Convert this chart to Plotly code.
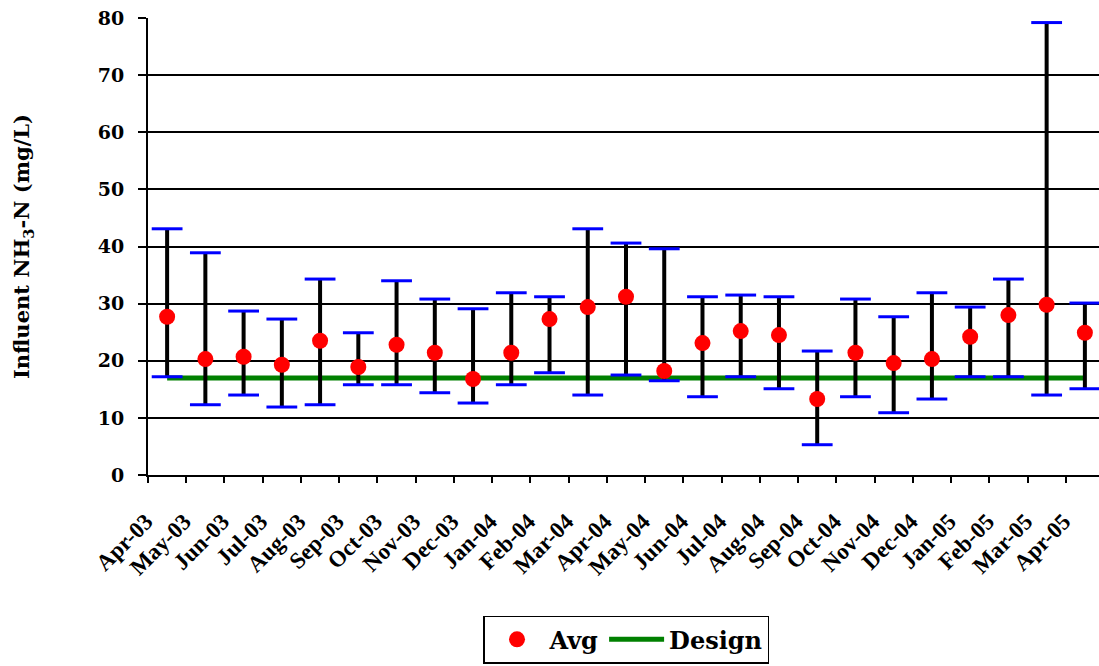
import plotly.graph_objects as go

months = ["Apr-03", "May-03", "Jun-03", "Jul-03", "Aug-03", "Sep-03", "Oct-03", "Nov-03",
          "Dec-03", "Jan-04", "Feb-04", "Mar-04", "Apr-04", "May-04", "Jun-04", "Jul-04",
          "Aug-04", "Sep-04", "Oct-04", "Nov-04", "Dec-04", "Jan-05", "Feb-05", "Mar-05", "Apr-05"]
avg_vals = [27.7, 20.3, 20.7, 19.3, 23.5, 18.9, 22.8, 21.4,
            16.8, 21.4, 27.3, 29.4, 31.2, 18.2, 23.1, 25.2,
            24.5, 13.3, 21.4, 19.6, 20.3, 24.2, 28.0, 29.8, 24.9]
max_vals = [43.1, 38.9, 28.7, 27.3, 34.3, 24.9, 34.0, 30.8,
            29.1, 31.9, 31.2, 43.1, 40.6, 39.6, 31.2, 31.5,
            31.2, 21.7, 30.8, 27.7, 31.9, 29.4, 34.3, 79.2, 30.1]
min_vals = [17.2, 12.3, 14.0, 11.9, 12.3, 15.8, 15.8, 14.4,
            12.6, 15.8, 17.9, 14.0, 17.5, 16.5, 13.7, 17.2,
            15.1, 5.3, 13.7, 10.9, 13.3, 17.2, 17.2, 14.0, 15.1]
design_val = 17.0
y_ticks = [0, 10, 20, 30, 40, 50, 60, 70, 80]

FONT = "DejaVu Serif"
XFONT = "Liberation Serif"

err_plus = [mx - a for mx, a in zip(max_vals, avg_vals)]
err_minus = [a - mn for mn, a in zip(min_vals, avg_vals)]

fig = go.Figure()

fig.add_trace(go.Scatter(
    x=months, y=[design_val] * len(months), mode="lines", name="Design",
    line=dict(color="#008000", width=5), legendrank=2, hoverinfo="skip"))

fig.add_trace(go.Scatter(
    x=months, y=avg_vals, mode="markers", name="Avg",
    marker=dict(color="#FF0000", size=16, line=dict(width=0)),
    error_y=dict(type="data", symmetric=False, array=err_plus, arrayminus=err_minus,
                 color="black", thickness=4, width=0),
    legendrank=1))

fig.add_trace(go.Scatter(
    x=months, y=max_vals, mode="markers", showlegend=False,
    marker=dict(symbol="line-ew", size=22, line=dict(color="#0000FF", width=3))))
fig.add_trace(go.Scatter(
    x=months, y=min_vals, mode="markers", showlegend=False,
    marker=dict(symbol="line-ew", size=22, line=dict(color="#0000FF", width=3))))

fig.update_layout(
    width=1104, height=666,
    margin=dict(l=148, r=0, t=18, b=191, autoexpand=False),
    paper_bgcolor="white", plot_bgcolor="white",
    font=dict(family=FONT, color="black"),
    showlegend=True,
    legend=dict(orientation="h", x=0.5, xanchor="center", y=-0.308, yanchor="top",
                bordercolor="black", borderwidth=1.5, bgcolor="white",
                itemwidth=55,
                font=dict(family=FONT, size=24, weight="bold", color="black")),
    xaxis=dict(type="category", categoryorder="array", categoryarray=months,
               range=[-0.5, len(months) - 0.5], tickson="boundaries", automargin=False,
               ticks="outside", ticklen=6, tickwidth=2, tickcolor="black",
               showline=True, linecolor="black", linewidth=2, showgrid=False,
               tickangle=-45, ticklabelstandoff=22, ticklabelshift=-21,
               tickfont=dict(family=XFONT, size=23, weight="bold")),
    yaxis=dict(range=[0, 80], tickvals=y_ticks, ticks="outside", ticklen=8, tickwidth=2,
               tickcolor="black", showline=True, linecolor="black", linewidth=2,
               showgrid=True, gridcolor="black", gridwidth=1.5, zeroline=False,
               automargin=False, ticklabelstandoff=10,
               tickfont=dict(family=FONT, size=19, weight="bold"),
               title=dict(text="Influent NH<sub>3</sub>-N (mg/L)", standoff=62,
                          font=dict(family=FONT, size=21, weight="bold"))),
)

fig.write_html("out.html", config={"displayModeBar": False},
               post_script="document.body.style.margin='0';document.body.style.overflow='hidden';")
